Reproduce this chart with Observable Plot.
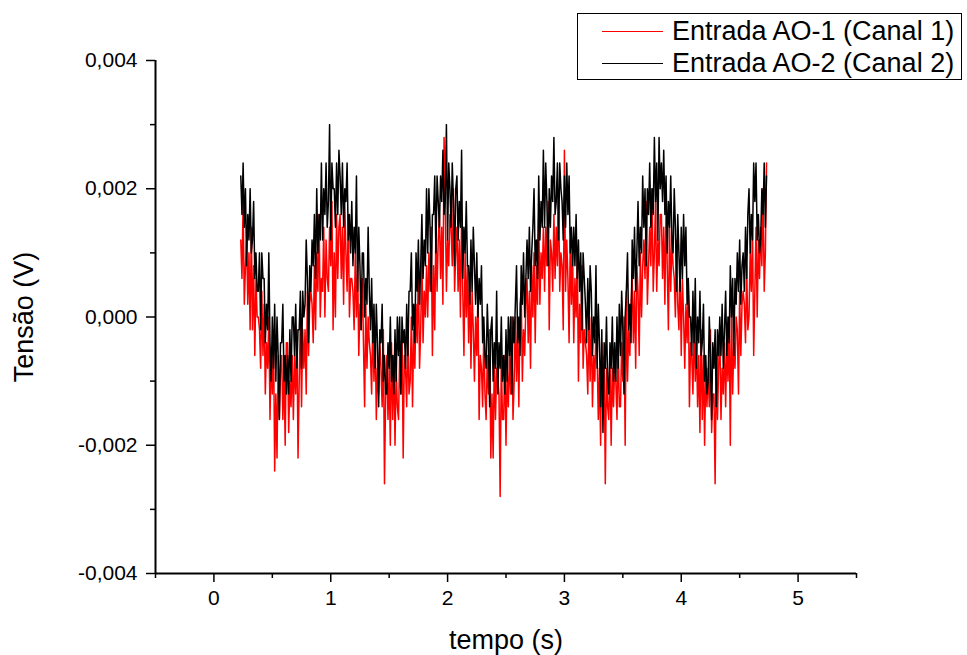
<!DOCTYPE html>
<html>
<head>
<meta charset="utf-8">
<script src="https://cdn.jsdelivr.net/npm/d3@7"></script>
<script src="https://cdn.jsdelivr.net/npm/@observablehq/plot@0.6"></script>
<style>
  html, body { margin: 0; padding: 0; background: #fff; }
  #wrap { position: relative; width: 967px; height: 655px; font-family: "Liberation Sans", Arial, sans-serif; }
  #legend { position: absolute; left: 577px; top: 13px; width: 385px; height: 67px; border: 1px solid #000; background: #fff; box-sizing: border-box; }
  .row { position: absolute; left: 0; height: 34px; width: 100%; }
  .row .sw { position: absolute; left: 24px; width: 61px; top: 17px; height: 0; border-top: 1px solid; }
  .row .lab { position: absolute; left: 94px; top: 0; font-size: 27px; line-height: 34px; white-space: nowrap; color: #000; }
</style>
</head>
<body>
<div id="wrap">
  <div id="chart"></div>
  <div id="legend"></div>
</div>
<script>
// Sampling: first and last sample times (s); samples are evenly spaced (0.01 s)
const tStart = 0.23;
const tEnd = 4.73;

// Canal 1 (Entrada AO-1), values in mV (5 samples per group = 0.05 s)
const ch1_mV = [
  1.2,0.6,1.8,0.2,0.8,  1.2,0.2,1.0,-0.2,1.4,  -0.2,0.8,-0.6,0.6,0,  0,-0.2,-0.8,0.4,-0.6,
  0.2,-1.2,-0.4,-0.8,0,  -1.6,-0.6,-1.2,-0.2,-2.4,  -1.2,-2.2,-0.6,-1.6,-0.8,  -0.6,-1.6,-0.8,-2.0,-0.4,
  -0.4,-1.8,-1.0,-1.4,-0.6,  -1.6,-0.6,-1.2,-0.2,-2.2,  -1.0,0,-1.4,-0.2,-0.8,  -0.2,-1.2,0.4,-0.6,0.2,
  0.4,0.2,-0.4,0.8,-0.2,  1.0,0.4,1.6,0,0.6,  0.4,1.4,0,1.2,0.6,  0.4,1.4,0.8,1.8,-0.2,
  1.0,0,1.6,0.6,1.4,  1.6,0.6,1.4,0.2,1.8,  1.0,0.4,1.6,0,0.6,  0.6,0.4,-0.2,1.0,0,
  0.8,-0.6,0.2,-0.2,0.6,  -0.4,-1.4,0.2,-0.8,0,  -0.4,-0.6,-1.2,0,-1.0,  -0.2,-1.6,-0.8,-1.2,-0.4,
  -0.8,-1.4,-0.2,-2.6,-1.2,  -0.6,-1.6,-0.8,-2.0,-0.4,  -1.6,-0.6,-2.0,-0.8,-1.4,  -1.6,-0.6,-1.2,-0.2,-2.2,
  -0.6,-0.8,-1.4,-0.2,-1.2,  -1.0,0,-1.4,-0.2,-0.8,  0.2,-0.4,0.8,-0.8,-0.2,  1.0,-0.4,0.4,0,0.8,
  0,1.0,0.4,1.4,-0.6,  0.8,-0.2,1.4,0.4,1.2,  1.6,0.6,1.4,0.2,2.8,  1.8,0.4,1.2,0.8,1.6,
  1.4,0.8,2.0,0.4,1.0,  1.4,0.4,1.2,0,1.6,  0.4,-0.6,1.0,0,0.8,  -0.4,0.6,-0.8,0.4,-0.2,
  -1.0,0,-0.6,0.4,-1.6,  -0.6,-0.8,-1.4,-0.2,-1.2,  -1.6,-0.6,-1.2,-0.2,-2.2,  -1.2,-2.2,-0.6,-1.6,-0.8,
  -1.0,-1.2,-2.8,-0.6,-1.6,  -1.6,-0.6,-2.0,-0.8,-1.4,  -0.6,-1.2,0,-1.6,-1.0,  0,-1.0,-0.2,-1.4,0.2,
  0.4,-1.0,-0.2,-0.6,0.2,  0.6,-0.4,0.4,-0.8,0.8,  0,1.0,-0.4,0.8,0.2,  1.6,0.2,1.0,0.6,1.4,
  0.4,1.4,0.8,1.8,-0.2,  1.2,1.0,0.4,1.6,0.6,  1.4,0.8,2.0,0.4,1.0,  0.8,-0.2,2.6,0.4,1.2,
  0.6,-0.4,1.2,0.2,1.0,  -0.4,0.6,0,1.0,-1.0,  0.2,-0.4,0.8,-0.8,-0.2,  -0.4,-0.6,-1.2,0,-1.0,
  0,-1.4,-0.6,-1.0,-0.2,  -0.6,-1.6,-0.8,-2.0,-0.4,  -1.6,-0.6,-2.6,-0.8,-1.4,  -1.6,-0.6,-2.0,-0.8,-1.4,
  -0.8,-1.0,-1.6,-0.4,-1.4,  -1.4,-0.4,-1.0,0,-2.0,  0.4,-1.0,-0.2,-0.6,0.2,  0.6,-0.4,0.4,-0.8,0.8,
  0.4,-0.6,1.0,0,0.8,  1.2,0.6,1.8,0.2,0.8,  1.4,0.8,2.0,0.4,1.0,  1.8,0.4,1.2,0.8,1.6,
  1.6,0.6,1.4,0.2,1.8,  0.8,-0.2,1.4,0.4,1.2,  0.8,0.6,0,1.2,0.2,  -0.2,0.8,-0.6,0.6,0,
  -0.8,0.2,-0.4,0.6,-1.4,  -0.4,-0.6,-1.2,0,-1.0,  -0.4,-1.4,-0.6,-1.8,-0.2,  -1.6,-0.6,-2.0,-0.8,-1.4,
  -0.8,-1.4,-0.2,-1.8,-1.2,  -1.2,-2.6,-0.6,-1.6,-0.8,  -0.2,-1.6,-0.8,-1.2,-0.4,  -1.4,-0.4,-1.0,0,-2.0,
  0.2,-1.2,-0.4,-0.8,0,  -0.2,-1.2,0.4,-0.6,0.2,  0.4,0.2,-0.4,0.8,-0.2,  0,1.0,0.4,1.4,-0.6,
  0.4,1.4,0,1.2,0.6,  1.4,0.8,2.0,0.4,1.0,  2.4
];

// Canal 2 (Entrada AO-2), values in mV (5 samples per group = 0.05 s)
const ch2_mV = [
  2.2,1.6,2.4,1.4,2.0,  0.8,1.6,1.2,2.0,1.0,  1.2,1.8,0.6,1.0,0.4,  0.4,1.0,-0.2,1.0,0.6,
  0.6,-0.4,0.2,-0.2,1.0,  -0.4,-1.0,0,-0.8,0.2,  -1.0,0,-0.6,-1.6,-0.4,  -0.4,0.2,-1.0,-0.6,-1.2,
  -0.6,-1.2,-0.2,-1.0,0,  0,-0.6,0.2,-0.8,-0.2,  -0.2,0.4,-0.8,0.4,0,  0.2,1.2,0.6,-0.4,0.8,
  0.4,1.2,0.8,1.6,0.6,  2.0,1.0,1.6,1.2,2.4,  1.2,2.0,1.6,2.4,1.4,  1.8,3.0,1.2,2.4,2.0,
  2.0,1.4,2.4,1.6,2.6,  2.2,1.6,2.4,1.4,2.0,  1.8,2.4,1.2,1.6,1.0,  1.8,0.8,1.4,1.0,2.2,
  0.4,1.4,0.8,-0.2,1.0,  1.0,0,0.6,0.2,1.4,  0.4,-0.2,0.6,-0.4,0.2,  -0.8,0.2,-0.4,-1.4,-0.2,
  -0.4,0.2,-1.0,-0.6,-1.2,  -1.2,-0.4,-0.8,0,-1.0,  -0.6,-1.2,-0.2,-1.0,0,  -0.6,0,-1.2,0,-0.4,
  -0.2,-0.8,0.2,-0.6,0.4,  0.4,1.0,-0.2,0.2,-0.4,  1.0,0.4,1.2,0.2,0.8,  1.6,0.6,1.2,0.8,2.0,
  1.0,2.0,1.4,0.4,1.6,  1.6,2.2,1.0,2.2,1.8,  1.4,2.2,1.8,2.6,1.6,  1.8,3.0,1.2,2.4,2.0,
  1.4,2.4,1.8,0.8,2.0,  2.2,1.2,1.8,1.4,2.6,  0.6,1.4,1.0,1.8,0.8,  0.8,0.2,1.2,0.4,1.4,
  0.8,0.2,1.0,0,0.6,  0.2,0.8,-0.4,0,-0.6,  -0.8,0.2,-0.4,-1.4,-0.2,  0,-1.0,-0.4,-0.8,0.4,
  -1.2,-0.4,-0.8,0,-1.0,  -0.6,-1.2,-0.2,-1.0,0,  -0.6,0,-1.2,0,-0.4,  0.2,0.8,-0.4,0,-0.6,
  0.8,0.2,1.0,0,0.6,  1.2,0.6,1.4,0.4,1.0,  1.4,2.0,0.8,1.2,0.6,  2.2,1.2,1.8,1.4,2.6,
  1.4,2.4,1.8,0.8,2.0,  1.4,2.2,1.8,2.8,1.6,  1.8,2.4,1.2,2.4,2.0,  1.8,1.2,2.2,1.4,2.4,
  1.6,2.2,1.0,1.4,0.8,  1.4,0.8,1.6,0.6,1.2,  0.4,1.0,-0.2,1.0,0.6,  0.2,-0.4,0.6,-0.2,0.8,
  0.4,-0.6,0,-0.4,0.8,  -0.8,0.2,-0.4,-1.4,-0.2,  -1.8,-0.4,-0.8,0,-1.0,  -1.2,-0.4,-0.8,0,-1.0,
  -0.4,-1.0,0,-0.8,0.2,  -0.6,0.4,-0.2,-1.2,0,  0.4,1.0,-0.2,0.2,-0.4,  1.2,0.6,1.4,0.4,1.0,
  1.8,0.8,1.4,1.0,2.2,  1.4,2.0,0.8,2.0,1.6,  2.4,1.4,2.0,1.6,2.8,  1.8,2.4,1.2,2.8,2.0,
  2.4,1.8,2.6,1.6,2.2,  1.0,1.8,1.4,2.2,1.2,  1.0,2.0,1.4,0.4,1.6,  1.0,0.4,1.4,0.6,1.6,
  0.8,1.4,0.2,0.6,0,  0,-0.6,0.4,-0.4,0.6,  -0.8,0,-0.4,0.4,-0.6,  -0.4,0.2,-1.0,-0.6,-1.2,
  -1.0,0,-0.6,-1.6,-0.4,  -0.8,-0.2,-1.4,-0.2,-0.6,  0,-0.6,0.2,-0.8,-0.2,  0.4,-0.6,0,-0.4,0.8,
  0,0.6,-0.6,0.6,0.2,  1.0,0.4,1.2,0.2,0.8,  1.0,0.4,1.4,0.6,1.6,  2.0,1.0,1.6,1.2,2.4,
  1.8,2.4,1.2,1.6,1.0,  1.2,2.0,1.6,2.4,1.4,  2.2
];

const seriesNames = ["Entrada AO-1 (Canal 1)", "Entrada AO-2 (Canal 2)"];
const seriesColors = ["#ff0000", "#000000"];

const xMajorTicks = [0, 1, 2, 3, 4, 5];
const xMinorTicks = [-0.5, 0.5, 1.5, 2.5, 3.5, 4.5, 5.5];
const yMajorTicks = [-0.004, -0.002, 0, 0.002, 0.004];
const yMinorTicks = [-0.003, -0.001, 0.001, 0.003];

function toRows(arr, name) {
  const n = arr.length;
  return arr.map((mv, i) => ({
    t: tStart + i * (tEnd - tStart) / (n - 1),
    v: mv / 1000,
    series: name
  }));
}
const rows1 = toRows(ch1_mV, seriesNames[0]);
const rows2 = toRows(ch2_mV, seriesNames[1]);

const fmtY = d => (d < 0 ? "-" : "") + Math.abs(d).toFixed(3).replace(".", ",");

const chart = Plot.plot({
  width: 967,
  height: 655,
  marginLeft: 155,
  marginRight: 111,
  marginTop: 60,
  marginBottom: 82,
  style: { fontFamily: "'Liberation Sans', Arial, sans-serif", color: "#000", background: "#fff", overflow: "visible" },
  x: { domain: [-0.5, 5.5] },
  y: { domain: [-0.004, 0.004] },
  marks: [
    Plot.line(rows1, { x: "t", y: "v", stroke: seriesColors[0], strokeWidth: 1.5 }),
    Plot.line(rows2, { x: "t", y: "v", stroke: seriesColors[1], strokeWidth: 1.5 }),
    Plot.ruleX([-0.5], { stroke: "#000", strokeWidth: 2 }),
    Plot.ruleY([-0.004], { stroke: "#000", strokeWidth: 2 }),
    Plot.axisX({ ticks: xMajorTicks, tickSize: 9, tickPadding: 8, tickFormat: d => String(d), fontSize: 21, strokeWidth: 1.5, label: null }),
    Plot.axisX({ ticks: xMinorTicks, tickSize: 5, tickFormat: () => "", strokeWidth: 1.5, label: null }),
    Plot.axisX({ ticks: [], label: "tempo (s)", labelAnchor: "center", labelOffset: 75, labelArrow: false, fontSize: 27 }),
    Plot.axisY({ ticks: yMajorTicks, tickSize: 9, tickPadding: 9, tickFormat: fmtY, fontSize: 21, strokeWidth: 1.5, label: null }),
    Plot.axisY({ ticks: yMinorTicks, tickSize: 5, tickFormat: () => "", strokeWidth: 1.5, label: null }),
    Plot.axisY({ ticks: [], label: "Tensão (V)", labelAnchor: "center", labelOffset: 142, labelArrow: false, fontSize: 27 })
  ]
});
document.getElementById("chart").appendChild(chart);

const legend = document.getElementById("legend");
seriesNames.forEach((name, i) => {
  const row = document.createElement("div");
  row.className = "row";
  row.style.top = (i * 32) + "px";
  const sw = document.createElement("div");
  sw.className = "sw";
  sw.style.borderTopColor = seriesColors[i];
  const lab = document.createElement("div");
  lab.className = "lab";
  lab.textContent = name;
  row.appendChild(sw);
  row.appendChild(lab);
  legend.appendChild(row);
});
</script>
</body>
</html>
